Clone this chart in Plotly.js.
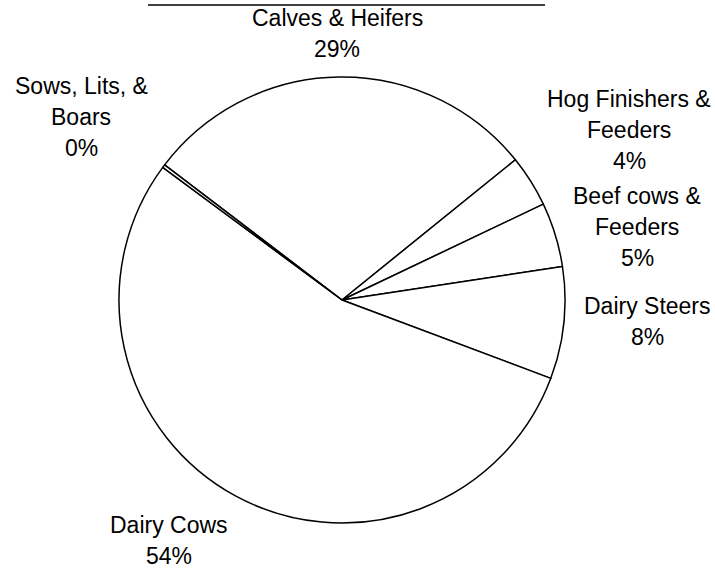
<!DOCTYPE html>
<html>
<head>
<meta charset="utf-8">
<script src="https://cdn.plot.ly/plotly-3.0.1.min.js"></script>
<style>html,body{margin:0;padding:0;background:#fff;}#chart{width:715px;height:569px;}</style>
</head>
<body>
<div id="chart"></div>
<script>
// Data
var categories = ['Calves & Heifers', 'Hog Finishers &<br>Feeders', 'Beef cows &<br>Feeders', 'Dairy Steers', 'Dairy Cows', 'Sows, Lits, &<br>Boars'];
var values = [28.8, 3.75, 4.67, 8.11, 54.4, 0.22];

// Label placement (pixel centre x, centre y of first line)
var labelX = [337, 629, 637, 647, 169, 81];
var labelY = [18, 99, 196, 306, 525, 86];
var lineGap = 31;

var W = 715, H = 569;
var total = values.reduce(function (a, b) { return a + b; }, 0);
var font = {family: 'Arial, "Liberation Sans", sans-serif', size: 23, color: '#000'};

var annotations = [];
categories.forEach(function (cat, i) {
  var lines = cat.split('<br>');
  lines.push(Math.round(values[i] / total * 100) + '%');
  lines.forEach(function (t, j) {
    annotations.push({
      xref: 'paper', yref: 'paper',
      x: labelX[i] / W, y: 1 - (labelY[i] + j * lineGap) / H,
      xanchor: 'center', yanchor: 'middle',
      text: t, showarrow: false, font: font
    });
  });
});

var trace = {
  type: 'pie',
  labels: categories,
  values: values,
  sort: false,
  direction: 'clockwise',
  rotation: -52.7,
  textinfo: 'none',
  hoverinfo: 'label+percent',
  marker: {colors: categories.map(function () { return '#ffffff'; }), line: {color: '#000', width: 1.5}},
  domain: {x: [119 / W, 565 / W], y: [1 - 523 / H, 1 - 77 / H]},
  showlegend: false
};

var layout = {
  width: W, height: H,
  margin: {l: 0, r: 0, t: 0, b: 0},
  paper_bgcolor: '#fff',
  showlegend: false,
  annotations: annotations,
  shapes: [{type: 'line', xref: 'paper', yref: 'paper', x0: 148 / W, x1: 545 / W, y0: 1 - 5 / H, y1: 1 - 5 / H, line: {color: '#000', width: 1.5}}]
};

Plotly.newPlot('chart', [trace], layout, {staticPlot: true, displayModeBar: false});
</script>
</body>
</html>
